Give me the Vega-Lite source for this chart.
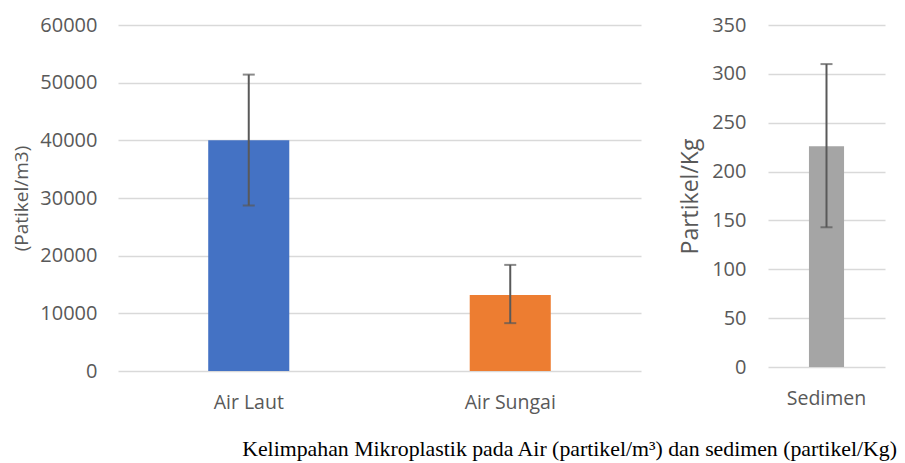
{
  "$schema": "https://vega.github.io/schema/vega-lite/v6.json",
  "background": "white",
  "padding": {"left": 12, "top": 15, "right": 15, "bottom": 2},
  "datasets": {
    "air": [
      {"kategori": "Air Laut", "nilai": 40000, "bawah": 28700, "atas": 51400},
      {"kategori": "Air Sungai", "nilai": 13200, "bawah": 8300, "atas": 18400}
    ],
    "sedimen": [
      {"kategori": "Sedimen", "nilai": 226, "bawah": 143, "atas": 310}
    ]
  },
  "config": {
    "font": "Open Sans",
    "view": {"stroke": null},
    "axis": {
      "labelColor": "#595959",
      "titleColor": "#595959",
      "labelFont": "Open Sans",
      "titleFont": "Open Sans",
      "titleFontWeight": "normal",
      "domain": false,
      "ticks": false,
      "gridColor": "#d9d9d9",
      "gridWidth": 1.5
    },
    "concat": {"spacing": 38}
  },
  "title": {
    "text": "Kelimpahan Mikroplastik pada Air (partikel/m³) dan sedimen (partikel/Kg)",
    "orient": "bottom",
    "anchor": "end",
    "font": "Liberation Serif",
    "fontSize": 21.8,
    "fontWeight": "normal",
    "color": "#000000",
    "offset": 27,
    "dx": 12
  },
  "hconcat": [
    {
      "width": 523,
      "height": 346,
      "data": {"name": "air"},
      "encoding": {
        "x": {
          "field": "kategori",
          "type": "nominal",
          "sort": null,
          "title": null,
          "scale": {"paddingInner": 0.69, "paddingOuter": 0.345},
          "axis": {"labelAngle": 0, "labelFontSize": 19.5, "labelPadding": 22, "grid": false}
        }
      },
      "layer": [
        {
          "mark": {"type": "bar"},
          "encoding": {
            "y": {
              "field": "nilai",
              "type": "quantitative",
              "scale": {"domain": [0, 60000]},
              "title": "(Patikel/m3)",
              "axis": {
                "values": [0, 10000, 20000, 30000, 40000, 50000, 60000],
                "format": "d",
                "labelFontSize": 20,
                "labelPadding": 21,
                "titleFontSize": 19,
                "titlePadding": 8
              }
            },
            "color": {
              "field": "kategori",
              "type": "nominal",
              "scale": {"domain": ["Air Laut", "Air Sungai"], "range": ["#4472C4", "#ED7D31"]},
              "legend": null
            }
          }
        },
        {
          "mark": {"type": "rule", "color": "#595959", "strokeWidth": 2},
          "encoding": {
            "y": {"field": "bawah", "type": "quantitative"},
            "y2": {"field": "atas"}
          }
        },
        {
          "mark": {"type": "tick", "color": "#595959", "thickness": 2, "size": 12, "orient": "horizontal"},
          "encoding": {"y": {"field": "bawah", "type": "quantitative"}}
        },
        {
          "mark": {"type": "tick", "color": "#595959", "thickness": 2, "size": 12, "orient": "horizontal"},
          "encoding": {"y": {"field": "atas", "type": "quantitative"}}
        }
      ]
    },
    {
      "width": 117,
      "height": 342,
      "data": {"name": "sedimen"},
      "encoding": {
        "x": {
          "field": "kategori",
          "type": "nominal",
          "title": null,
          "scale": {"paddingInner": 0.7, "paddingOuter": 0.35},
          "axis": {"labelAngle": 0, "labelFontSize": 19.5, "labelPadding": 22, "grid": false}
        }
      },
      "layer": [
        {
          "mark": {"type": "bar", "color": "#A5A5A5"},
          "encoding": {
            "y": {
              "field": "nilai",
              "type": "quantitative",
              "scale": {"domain": [0, 350]},
              "title": "Partikel/Kg",
              "axis": {
                "values": [0, 50, 100, 150, 200, 250, 300, 350],
                "labelFontSize": 20,
                "labelPadding": 22,
                "titleFontSize": 23,
                "titlePadding": 9
              }
            }
          }
        },
        {
          "mark": {"type": "rule", "color": "#595959", "strokeWidth": 2},
          "encoding": {
            "y": {"field": "bawah", "type": "quantitative"},
            "y2": {"field": "atas"}
          }
        },
        {
          "mark": {"type": "tick", "color": "#595959", "thickness": 2, "size": 12, "orient": "horizontal"},
          "encoding": {"y": {"field": "bawah", "type": "quantitative"}}
        },
        {
          "mark": {"type": "tick", "color": "#595959", "thickness": 2, "size": 12, "orient": "horizontal"},
          "encoding": {"y": {"field": "atas", "type": "quantitative"}}
        }
      ]
    }
  ]
}
